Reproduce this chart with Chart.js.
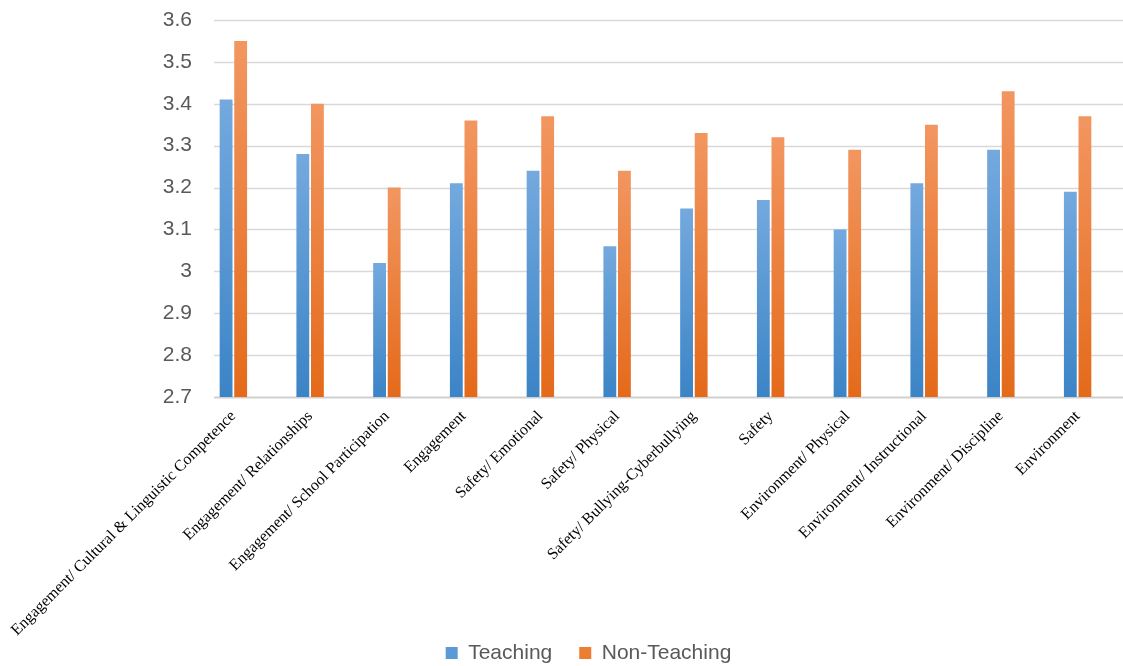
<!DOCTYPE html>
<html>
<head>
<meta charset="utf-8">
<script src="https://cdn.jsdelivr.net/npm/chart.js@4/dist/chart.umd.min.js"></script>
<style>
  html, body { margin: 0; padding: 0; background: #ffffff; }
  #wrap { width: 1123px; height: 666px; position: relative; }
</style>
</head>
<body>
<div id="wrap"><canvas id="c" width="1123" height="666"></canvas></div>
<script>
const categories = [
  "Engagement/ Cultural & Linguistic Competence",
  "Engagement/ Relationships",
  "Engagement/ School Participation",
  "Engagement",
  "Safety/ Emotional",
  "Safety/ Physical",
  "Safety/ Bullying-Cyberbullying",
  "Safety",
  "Environment/ Physical",
  "Environment/ Instructional",
  "Environment/ Discipline",
  "Environment"
];
const teaching    = [3.41, 3.28, 3.02, 3.21, 3.24, 3.06, 3.15, 3.17, 3.10, 3.21, 3.29, 3.19];
const nonTeaching = [3.55, 3.40, 3.20, 3.36, 3.37, 3.24, 3.33, 3.32, 3.29, 3.35, 3.43, 3.37];
const seriesNames = ["Teaching", "Non-Teaching"];
const yMin = 2.7, yMax = 3.6, yStep = 0.1;

function barGradient(topColor, bottomColor, solid) {
  return function(ctx) {
    const chart = ctx.chart;
    const area = chart.chartArea;
    if (!area || ctx.type !== 'data' || ctx.raw === undefined) return solid;
    const top = chart.scales.y.getPixelForValue(ctx.raw);
    if (!isFinite(top)) return solid;
    const g = chart.ctx.createLinearGradient(0, top, 0, area.bottom);
    g.addColorStop(0, topColor);
    g.addColorStop(1, bottomColor);
    return g;
  };
}

const gridPlugin = {
  id: 'customGrid',
  beforeDatasetsDraw(chart) {
    const y = chart.scales.y;
    const c = chart.ctx;
    c.save();
    y.ticks.forEach((t, i) => {
      const py = Math.round(y.getPixelForValue(t.value)) + 0.5;
      c.beginPath();
      c.strokeStyle = i === 0 ? '#d0d0d0' : '#d9d9d9';
      c.lineWidth = i === 0 ? 2 : 1.3;
      c.moveTo(214, py);
      c.lineTo(chart.width, py);
      c.stroke();
    });
    c.restore();
  }
};

const layoutTweak = {
  id: 'layoutTweak',
  afterLayout(chart) {
    const x = chart.scales.x;
    if (x) x.bottom = chart.height;
    const lg = chart.legend;
    if (!lg) return;
    const dx = -1, dy = 7.5;
    lg.left += dx; lg.right += dx;
    lg.top += dy; lg.bottom += dy;
  }
};

new Chart(document.getElementById('c'), {
  type: 'bar',
  data: {
    labels: categories,
    datasets: [
      {
        label: seriesNames[0],
        data: teaching,
        backgroundColor: barGradient('#74a9de', '#3b84c6', '#5b9bd5'),
        borderWidth: 0,
        categoryPercentage: 0.38,
        barPercentage: 0.88
      },
      {
        label: seriesNames[1],
        data: nonTeaching,
        backgroundColor: barGradient('#f29660', '#e46a1a', '#ed7d31'),
        borderWidth: 0,
        categoryPercentage: 0.38,
        barPercentage: 0.88
      }
    ]
  },
  options: {
    responsive: false,
    animation: false,
    devicePixelRatio: 1,
    layout: { padding: { left: 63, right: 7, top: 20, bottom: 0 } },
    plugins: {
      tooltip: { enabled: false },
      legend: {
        position: 'bottom',
        labels: {
          boxWidth: 12,
          boxHeight: 12,
          padding: 27,
          color: '#595959',
          font: { family: "'Liberation Sans', Arial, sans-serif", size: 21 },
          generateLabels(chart) {
            const solids = ['#5b9bd5', '#ed7d31'];
            return chart.data.datasets.map((ds, i) => ({
              text: ds.label,
              fillStyle: solids[i],
              strokeStyle: solids[i],
              lineWidth: 0,
              fontColor: '#595959',
              hidden: false,
              datasetIndex: i
            }));
          }
        }
      }
    },
    scales: {
      x: {
        grid: { display: false },
        border: { display: false },
        ticks: {
          autoSkip: false,
          maxRotation: 45,
          minRotation: 45,
          padding: 2,
          color: '#000000',
          font: { family: "'Liberation Serif', 'Times New Roman', serif", size: 16 }
        },
        afterFit(scale) { scale.height = 211; }
      },
      y: {
        min: yMin,
        max: yMax,
        grid: { display: false, drawTicks: false },
        border: { display: false },
        ticks: {
          stepSize: yStep,
          padding: 3,
          color: '#595959',
          font: { family: "'Liberation Sans', Arial, sans-serif", size: 21 },
          callback: (v) => String(+Number(v).toFixed(1))
        },
        afterFit(scale) { scale.width = 132; }
      }
    }
  },
  plugins: [gridPlugin, layoutTweak]
});
</script>
</body>
</html>
